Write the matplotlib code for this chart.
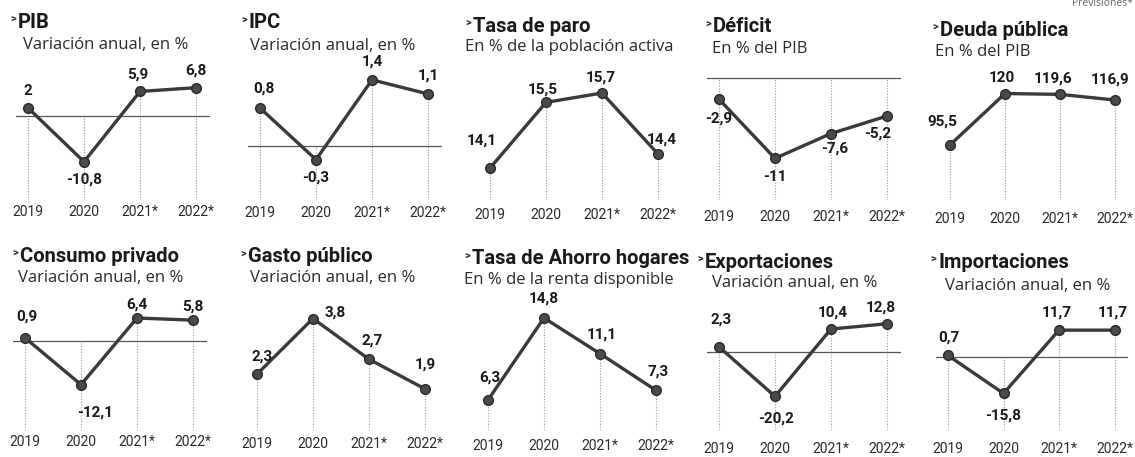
import matplotlib
matplotlib.use("Agg")
import matplotlib.pyplot as plt

W, H = 1135, 457

years = ["2019", "2020", "2021*", "2022*"]

titles = ["PIB", "IPC", "Tasa de paro", "Déficit", "Deuda pública",
          "Consumo privado", "Gasto público", "Tasa de Ahorro hogares",
          "Exportaciones", "Importaciones"]
subtitles = ["Variación anual, en %", "Variación anual, en %",
             "En % de la población activa", "En % del PIB", "En % del PIB",
             "Variación anual, en %", "Variación anual, en %",
             "En % de la renta disponible", "Variación anual, en %",
             "Variación anual, en %"]

pib = [2, -10.8, 5.9, 6.8]
ipc = [0.8, -0.3, 1.4, 1.1]
paro = [14.1, 15.5, 15.7, 14.4]
deficit = [-2.9, -11, -7.6, -5.2]
deuda = [95.5, 120, 119.6, 116.9]
consumo = [0.9, -12.1, 6.4, 5.8]
gasto = [2.3, 3.8, 2.7, 1.9]
ahorro = [6.3, 14.8, 11.1, 7.3]
exportaciones = [2.3, -20.2, 10.4, 12.8]
importaciones = [0.7, -15.8, 11.7, 11.7]

series = [pib, ipc, paro, deficit, deuda,
          consumo, gasto, ahorro, exportaciones, importaciones]

# ---- layout (pixels) ----
x2019 = [28, 260, 490, 719, 950, 25, 257, 488, 719, 948]
steps = [56, 56, 56, 56, 55, 56, 56, 56, 56, 55.5]
row_top = [70, 300]
row_bot = [200, 430]
ylims = [(-19.9, 11.0), (-1.16, 1.61), (13.42, 16.19), (-16.7, 1.1), (69.3, 131.2),
         (-24.7, 11.4), (0.79, 4.3), (3.19, 16.66), (-35.5, 23.6), (-31.7, 24.8)]
zero_line = [True, True, False, True, False, True, False, False, True, True]
title_x = [10, 241, 465, 705, 932, 12, 240, 464, 697, 930]
sub_x = [23, 250, 465, 712, 935, 18, 250, 464, 712, 945]
# the scan is slightly tilted: centres move down towards the right
title_y = [22, 23, 26, 27, 30, 256, 257, 259, 262, 262]
sub_y = [45, 46, 47, 49, 52, 278, 278, 280, 283, 286]
tick_y = [210, 211, 213, 215, 217, 440, 442, 444, 447, 447]

# label offsets (dx, dy) in pixels, dy positive = down
offsets = [
    [(0, -17), (0, 18), (-2, -17), (0, -17)],
    [(4, -19), (0, 18), (0, -18), (0, -18)],
    [(-8, -28), (-3, -13), (-1, -15), (4, -14)],
    [(0, 19), (0, 19), (4, 15), (-9, 18)],
    [(-8, -23), (-3, -16), (-7, -16), (-5, -20)],
    [(2, -21), (14, 28), (0, -13), (0, -14)],
    [(5, -18), (22, -6), (3, -19), (0, -24)],
    [(2, -22), (0, -19), (2, -19), (2, -19)],
    [(2, -27), (1, 22), (2, -16), (-6, -16)],
    [(1, -18), (0, 22), (-2, -18), (-2, -18)],
]

bold = ["Roboto", "DejaVu Sans"]
regular = ["Open Sans", "DejaVu Sans"]
dark = "#2b2b2b"
linec = "#3a3a3a"

fig = plt.figure(figsize=(W / 100, H / 100), dpi=100)
fig.patch.set_facecolor("white")


def fx(px):
    return px / W


def fy(py):
    return 1 - py / H


for i, vals in enumerate(series):
    r = i // 5
    step = steps[i]
    left = x2019[i] - 0.22 * step
    width = 3.47 * step
    ax = fig.add_axes([fx(left), fy(row_bot[r]), width / W,
                       (row_bot[r] - row_top[r]) / H])
    ax.set_xlim(-0.22, 3.25)
    ax.set_ylim(*ylims[i])
    xs = list(range(len(vals)))
    if zero_line[i]:
        ax.axhline(0, color="#555555", lw=0.9, zorder=1)
    for x, v in zip(xs, vals):
        top = max(v, 0) if zero_line[i] else v
        ax.vlines(x, ylims[i][0], top, colors="#9a9a9a", lw=0.8,
                  linestyles=(0, (1, 1.5)), zorder=0)
    ax.plot(xs, vals, color=linec, lw=2.4, marker="o", markersize=7,
            markerfacecolor="#4a4a4a", markeredgecolor="#2a2a2a", zorder=3)
    for x, v, (dx, dy) in zip(xs, vals, offsets[i]):
        lab = f"{v:g}".replace(".", ",")
        ax.annotate(lab, (x, v), xytext=(dx * 0.72, -dy * 0.72),
                    textcoords="offset points", ha="center", va="center",
                    fontsize=11, fontweight="bold", family=bold,
                    color="#1a1a1a", annotation_clip=False)
    ax.set_xticks(xs)
    ax.set_xticklabels(years, family=bold, fontsize=10, color=dark)
    pad_px = tick_y[i] - row_bot[r] - 5
    ax.tick_params(axis="x", length=0, pad=pad_px * 0.72)
    ax.set_yticks([])
    for s in ax.spines.values():
        s.set_visible(False)
    ax.patch.set_alpha(0)

    fig.text(fx(title_x[i]), fy(title_y[i] - 3), ">", fontsize=8,
             fontweight="bold", family=bold, color=dark,
             ha="left", va="center")
    fig.text(fx(title_x[i] + 8), fy(title_y[i]), titles[i], fontsize=14.5,
             fontweight="bold", family=bold, color="#1a1a1a",
             ha="left", va="center")
    fig.text(fx(sub_x[i]), fy(sub_y[i]), subtitles[i], fontsize=12,
             family=regular, color=dark, ha="left", va="center")

fig.text(fx(1133), fy(4), "Previsiones*", fontsize=7.5, family=regular,
         color="#666666", ha="right", va="center")

fig.savefig("out.png", dpi=100, facecolor="white")
